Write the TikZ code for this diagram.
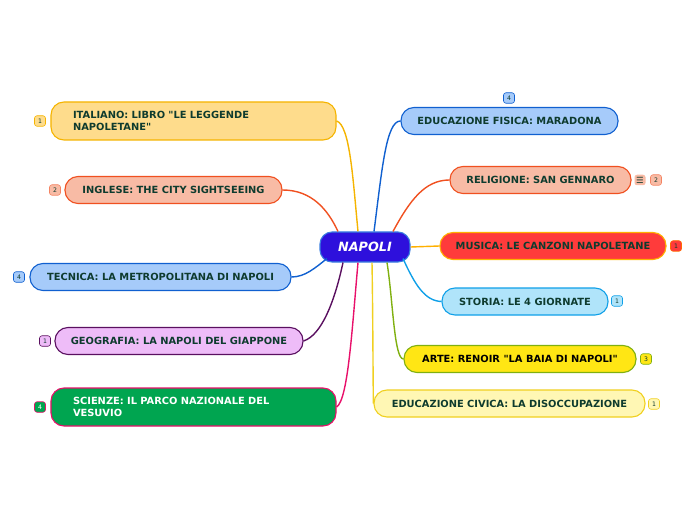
\documentclass[tikz,border=0pt]{standalone}
\usepackage{fontspec}
\setmainfont{DejaVu Sans}[Ligatures=TeXOff]
\begin{document}
\begin{tikzpicture}[x=1bp,y=-1bp,
  topic/.style={draw, line width=1.1bp, rounded corners=13bp, minimum height=27bp, inner sep=0pt,
    font=\bfseries\fontsize{9.9}{11.5}\selectfont, text=txt},
  badge/.style={draw, line width=0.6bp, rounded corners=2.5bp, minimum width=11bp, minimum height=10.5bp, inner sep=0pt,
    font=\fontsize{6.2}{6.5}\selectfont, text=txt},
  link/.style={line width=1.4bp}
]
\definecolor{txt}{HTML}{0E3B2E}
\definecolor{yelF}{HTML}{FEDC8C}\definecolor{yelD}{HTML}{F5B400}
\definecolor{salF}{HTML}{F8BBA5}\definecolor{salD}{HTML}{F05020}
\definecolor{bluF}{HTML}{A6CBFA}\definecolor{bluD}{HTML}{1060D0}
\definecolor{purF}{HTML}{EEBCF8}\definecolor{purD}{HTML}{5A1060}
\definecolor{grnF}{HTML}{00A550}\definecolor{pnkD}{HTML}{E8106A}
\definecolor{redF}{HTML}{FF3B3B}\definecolor{musD}{HTML}{FFB000}
\definecolor{skyF}{HTML}{B0E4FA}\definecolor{skyD}{HTML}{10A0E8}
\definecolor{artF}{HTML}{FFE614}\definecolor{artD}{HTML}{80B010}
\definecolor{civF}{HTML}{FFF7B4}\definecolor{civD}{HTML}{F0D020}
\definecolor{cenF}{HTML}{2E10DC}\definecolor{cenD}{HTML}{3A80E0}
\useasboundingbox (0,0) rectangle (696,520);

% connectors (drawn first, under the nodes)
\node[draw=cenD, fill=cenF, line width=1.1bp, rounded corners=12bp, minimum width=90bp, minimum height=30bp,
  text=white, font=\bfseries\itshape\fontsize{12.8}{14}\selectfont] (c) at (365,247) {NAPOLI};

% left topics
\node[topic, draw=yelD, fill=yelF, minimum width=285bp, minimum height=38bp, text width=241bp, align=left, inner xsep=22bp] (ita) at (193.5,121) {ITALIANO: LIBRO "LE LEGGENDE\\NAPOLETANE"};
\node[topic, draw=salD, fill=salF, minimum width=217bp] (ing) at (173.5,190) {INGLESE: THE CITY SIGHTSEEING};
\node[topic, draw=bluD, fill=bluF, minimum width=261bp] (tec) at (160.5,277) {TECNICA: LA METROPOLITANA DI NAPOLI};
\node[topic, draw=purD, fill=purF, minimum width=248bp] (geo) at (179,341) {GEOGRAFIA: LA NAPOLI DEL GIAPPONE};
\node[topic, draw=pnkD, fill=grnF, text=white, minimum width=285bp, minimum height=38bp, text width=241bp, align=left, inner xsep=22bp] (sci) at (193.5,407) {SCIENZE: IL PARCO NAZIONALE DEL\\VESUVIO};

% right topics
\node[topic, draw=bluD, fill=bluF, minimum width=217bp] (ef) at (509.5,121) {EDUCAZIONE FISICA: MARADONA};
\node[topic, draw=salD, fill=salF, minimum width=181bp] (rel) at (540.5,180) {RELIGIONE: SAN GENNARO};
\node[topic, draw=musD, fill=redF, minimum width=226bp] (mus) at (553,246) {MUSICA: LE CANZONI NAPOLETANE};
\node[topic, draw=skyD, fill=skyF, minimum width=166bp] (sto) at (525,301.5) {STORIA: LE 4 GIORNATE};
\node[topic, draw=artD, fill=artF, text=black, minimum width=232bp] (art) at (520,359) {ARTE: RENOIR "LA BAIA DI NAPOLI"};
\node[topic, draw=civD, fill=civF, minimum width=271bp] (civ) at (509.5,403.5) {EDUCAZIONE CIVICA: LA DISOCCUPAZIONE};

% badges
\node[badge, draw=yelD, fill=yelF] (b1) at (40,121) {1};
\node[badge, draw=salD!70, fill=salF] (b2) at (55,190) {2};
\node[badge, draw=bluD, fill=bluF] (b3) at (19,277) {4};
\node[badge, draw=purD, fill=purF] (b4) at (45,341) {1};
\node[badge, draw=pnkD, fill=grnF, text=white] (b5) at (40,407) {4};
\node[badge, draw=bluD, fill=bluF] (b6) at (509,98) {4};
\node[badge, draw=none, fill=salF, font=\fontsize{8.5}{8.5}\selectfont] (b7) at (640,180) {☰};
\node[badge, draw=salD!70, fill=salF] (b8) at (656,180) {2};
\node[badge, draw=musD!60!red, fill=redF] (b9) at (676,246) {1};
\node[badge, draw=skyD, fill=skyF] (b10) at (617,301) {1};
\node[badge, draw=artD, fill=artF] (b11) at (646,359) {3};
\node[badge, draw=civD, fill=civF] (b12) at (654,404) {1};

% connectors
\draw[link, draw=yelD] ([xshift=-7bp]c.north) .. controls (353,180) and (350,125) .. (ita.east);
\draw[link, draw=salD] ([xshift=-27bp]c.north) .. controls (328,210) and (312,190) .. (ing.east);
\draw[link, draw=bluD] ([xshift=-38bp,yshift=4bp]c.south) .. controls (315,268) and (305,277) .. (tec.east);
\draw[link, draw=purD] ([xshift=-22bp]c.south) .. controls (335,300) and (322,335) .. (geo.east);
\draw[link, draw=pnkD] ([xshift=-7bp]c.south) .. controls (352,330) and (348,400) .. (sci.east);
\draw[link, draw=bluD] ([xshift=9bp]c.north) .. controls (382,170) and (386,121) .. (ef.west);
\draw[link, draw=salD] ([xshift=28bp]c.north) .. controls (410,200) and (425,180) .. (rel.west);
\draw[link, draw=musD] (c.east) -- (mus.west);
\draw[link, draw=skyD] ([xshift=38bp,yshift=4bp]c.south) .. controls (415,285) and (425,301) .. (sto.west);
\draw[link, draw=artD] ([xshift=22bp]c.south) .. controls (393,300) and (394,359) .. (art.west);
\draw[link, draw=civD] ([xshift=7bp]c.south) .. controls (373,320) and (373,390) .. (civ.west);
\end{tikzpicture}
\end{document}
